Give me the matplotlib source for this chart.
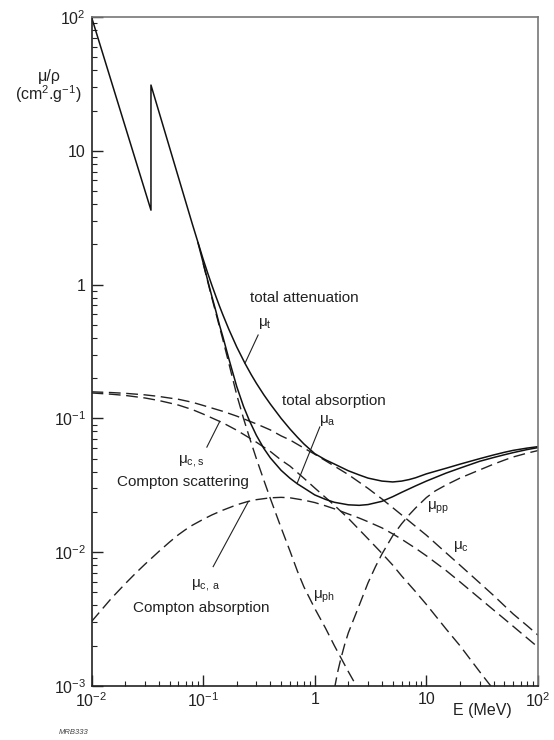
import matplotlib
matplotlib.use("Agg")
import matplotlib.pyplot as plt
from matplotlib.ticker import FixedLocator, FixedFormatter, LogLocator, NullFormatter

plt.rcParams['font.family'] = ['Liberation Sans', 'DejaVu Sans']
plt.rcParams['mathtext.fontset'] = 'custom'
plt.rcParams['mathtext.rm'] = 'Liberation Sans'
plt.rcParams['mathtext.it'] = 'Liberation Sans'
plt.rcParams['mathtext.default'] = 'regular'

# total attenuation (solid)
E_t = [0.01, 0.0341, 0.0341, 0.05, 0.08, 0.1, 0.11, 0.12, 0.13, 0.14, 0.15, 0.17, 0.2, 0.237,
       0.27, 0.3, 0.35, 0.4, 0.5, 0.6, 0.7, 0.8, 1.0, 1.25, 1.5, 2, 2.5, 3, 4, 5, 6, 7, 8, 10,
       13, 15, 20, 30, 40, 50, 60, 80, 100]
mu_t = [100, 3.6, 31, 10.6, 2.84, 1.55, 1.216, 0.984, 0.818, 0.692, 0.597, 0.463, 0.342, 0.258,
        0.212, 0.183, 0.150, 0.128, 0.100, 0.0833, 0.0723, 0.0644, 0.0545, 0.049, 0.0456,
        0.0406, 0.0378, 0.0358, 0.0340, 0.0335, 0.0340, 0.0349, 0.0360, 0.0385, 0.0410, 0.0424,
        0.0455, 0.0500, 0.0533, 0.0558, 0.0577, 0.0600, 0.0615]

# total absorption (solid)
E_a = [0.09, 0.1, 0.11, 0.12, 0.13, 0.14, 0.15, 0.17, 0.2, 0.23, 0.26, 0.3, 0.35, 0.4, 0.5,
       0.6, 0.7, 0.8, 1, 1.25, 1.5, 2, 2.5, 3, 4, 5, 6, 8, 10, 15, 20, 30, 40, 50, 60, 80, 100]
mu_a = [2.05, 1.46, 1.07, 0.81, 0.635, 0.50, 0.41, 0.279, 0.173, 0.123, 0.096, 0.0747, 0.0596,
        0.0507, 0.0409, 0.0357, 0.0324, 0.0302, 0.0268, 0.0248, 0.0236, 0.0226, 0.0224, 0.0227,
        0.0240, 0.0260, 0.0280, 0.0313, 0.0340, 0.0390, 0.0425, 0.0478, 0.0510, 0.0535, 0.0555,
        0.0585, 0.0605]

# photoelectric (dashed)
E_ph = [0.1, 0.11, 0.12, 0.13, 0.14, 0.15, 0.17, 0.2, 0.23, 0.26, 0.3, 0.35, 0.4, 0.5, 0.6,
        0.7, 0.8, 1.0, 1.25, 1.5, 2, 2.5]
mu_ph = [1.44, 1.05, 0.79, 0.615, 0.485, 0.39, 0.258, 0.150, 0.100, 0.072, 0.050, 0.0345,
         0.0252, 0.0152, 0.0102, 0.0072, 0.0055, 0.0038, 0.0027, 0.0020, 0.00128, 0.00092]

# Compton total and Compton scattering (dashed)
E_c = [0.01, 0.015, 0.02, 0.03, 0.04, 0.05, 0.06, 0.08, 0.1, 0.15, 0.2, 0.3, 0.4, 0.5, 0.6,
       0.8, 1, 1.5, 2, 3, 4, 5, 6, 8, 10, 15, 20, 30, 40, 50, 60, 80, 100]
mu_c = [0.158, 0.156, 0.154, 0.150, 0.146, 0.142, 0.139, 0.132, 0.125, 0.113, 0.104, 0.091,
        0.082, 0.074, 0.069, 0.060, 0.054, 0.044, 0.038, 0.030, 0.025, 0.0215, 0.019, 0.0156,
        0.0134, 0.0099, 0.0080, 0.0059, 0.00475, 0.00398, 0.00345, 0.00282, 0.0024]
mu_cs = [0.155, 0.1516, 0.1485, 0.1422, 0.1361, 0.1304, 0.1258, 0.1164, 0.1078, 0.0927, 0.0816,
         0.0664, 0.0566, 0.0488, 0.0440, 0.0357, 0.0302, 0.0224, 0.0179, 0.0126, 0.0098, 0.0080,
         0.00665, 0.00507, 0.00407, 0.00267, 0.0020, 0.00128, 0.00094, 0.00072, 0.0006, 0.00045,
         0.00036]

# Compton absorption (dashed)
E_ca = [0.01, 0.012, 0.015, 0.02, 0.025, 0.03, 0.04, 0.05, 0.06, 0.07, 0.08, 0.1, 0.12, 0.15,
        0.2, 0.25, 0.3, 0.4, 0.5, 0.6, 0.8, 1, 1.25, 1.5, 2, 2.5, 3, 4, 5, 6, 8, 10, 15, 20, 30,
        40, 50, 60, 80, 100]
mu_ca = [0.00303, 0.00362, 0.0045, 0.0058, 0.0070, 0.0081, 0.0101, 0.0119, 0.0135, 0.0148,
         0.0159, 0.0176, 0.0190, 0.0206, 0.0226, 0.0239, 0.0247, 0.0255, 0.0257, 0.0255, 0.0245,
         0.0235, 0.0222, 0.0211, 0.0193, 0.0180, 0.0169, 0.0152, 0.0137, 0.0125, 0.0107, 0.0094,
         0.0073, 0.0060, 0.00452, 0.00370, 0.00317, 0.00279, 0.00228, 0.00195]

# pair production (dashed)
E_pp = [1.5, 1.6, 1.7, 1.85, 2, 2.5, 3, 3.5, 4, 5, 6, 7, 8, 10, 12, 15, 20, 30, 40, 50, 60, 80,
        100]
mu_pp = [0.00095, 0.00126, 0.00156, 0.00203, 0.0025, 0.0040, 0.0059, 0.0078, 0.0097, 0.0133,
         0.0163, 0.0190, 0.0214, 0.0256, 0.0287, 0.0318, 0.0358, 0.0412, 0.0455, 0.0488, 0.0515,
         0.0550, 0.0575]

xticks = [0.01, 0.1, 1, 10, 100]
xlabels = ['$10^{-2}$', '$10^{-1}$', '1', '10', '$10^{2}$']
yticks = [0.001, 0.01, 0.1, 1, 10, 100]
ylabels = ['$10^{-3}$', '$10^{-2}$', '$10^{-1}$', '1', '10', '$10^{2}$']

fig = plt.figure(figsize=(5.54, 7.40), dpi=100)
ax = fig.add_axes([91.5/554, 1-686/740, (538-91.5)/554, (686-17)/740])
ax.set_xscale('log')
ax.set_yscale('log')
ax.set_xlim(0.01, 100)
ax.set_ylim(0.001, 100)

dash = (8.5, 4)
for xs, ys in [(E_ph, mu_ph), (E_c, mu_c), (E_c, mu_cs), (E_ca, mu_ca), (E_pp, mu_pp)]:
    ax.plot(xs, ys, color='#222222', lw=1.0, linestyle=(0, dash))
ax.plot(E_t, mu_t, color='#111111', lw=1.1)
ax.plot(E_a, mu_a, color='#111111', lw=1.1)

# pointer lines
ax.plot([0.311, 0.237], [0.42, 0.258], color='#222222', lw=0.8)
ax.plot([1.11, 0.694], [0.0863, 0.0326], color='#222222', lw=0.8)
ax.plot([0.108, 0.141], [0.061, 0.095], color='#222222', lw=0.8)
ax.plot([0.123, 0.254], [0.0078, 0.0239], color='#222222', lw=0.8)

fs = 11
ax.text(0.80, 0.79, 'total attenuation', fontsize=fs, ha='center', va='center', color='#222222')
ax.text(0.36, 0.508, '$μ_{t}$', fontsize=fs, ha='center', va='center', color='#222222')
ax.text(1.49, 0.135, 'total absorption', fontsize=fs, ha='center', va='center', color='#222222')
ax.text(1.29, 0.097, '$μ_{a}$', fontsize=fs, ha='center', va='center', color='#222222')
ax.text(0.078, 0.048, '$μ_{c,s}$', fontsize=fs, ha='center', va='center', color='#222222')
ax.text(0.066, 0.0335, 'Compton scattering', fontsize=fs, ha='center', va='center', color='#222222')
ax.text(0.106, 0.00569, '$μ_{c,\\ a}$', fontsize=fs, ha='center', va='center', color='#222222')
ax.text(0.097, 0.00386, 'Compton absorption', fontsize=fs, ha='center', va='center', color='#222222')
ax.text(12.8, 0.0214, '$μ_{pp}$', fontsize=fs, ha='center', va='center', color='#222222')
ax.text(20.5, 0.0111, '$μ_{c}$', fontsize=fs, ha='center', va='center', color='#222222')
ax.text(1.21, 0.00462, '$μ_{ph}$', fontsize=fs, ha='center', va='center', color='#222222')

ax.xaxis.set_major_locator(FixedLocator(xticks))
ax.xaxis.set_major_formatter(FixedFormatter(xlabels))
ax.yaxis.set_major_locator(FixedLocator(yticks))
ax.yaxis.set_major_formatter(FixedFormatter(ylabels))
ax.xaxis.set_minor_locator(LogLocator(base=10, subs=range(2, 10)))
ax.yaxis.set_minor_locator(LogLocator(base=10, subs=range(2, 10)))
ax.xaxis.set_minor_formatter(NullFormatter())
ax.yaxis.set_minor_formatter(NullFormatter())
ax.tick_params(which='both', direction='in', top=False, right=False, colors='#222222',
               labelsize=11.5)
ax.tick_params(which='major', length=8, width=1.0, pad=4)
ax.tick_params(which='minor', length=3.8, width=0.8)

for s in ['left', 'bottom']:
    ax.spines[s].set_linewidth(1.2)
    ax.spines[s].set_color('#222222')
for s in ['top', 'right']:
    ax.spines[s].set_linewidth(1.2)
    ax.spines[s].set_color('#777777')

fig.text(49/554, 1-76/740, 'μ/ρ', fontsize=11.5, ha='center', va='center', color='#222222')
fig.text(48/554, 1-94/740, '(cm$^{2}$.g$^{-1}$)', fontsize=11.5, ha='center', va='center',
         color='#222222')
fig.text(482/554, 1-711/740, 'E (MeV)', fontsize=11.5, ha='center', va='center', color='#222222')
fig.text(74/554, 1-733/740, 'MRB333', fontsize=5.5, ha='center', va='center', color='#444444',
         style='italic')

fig.savefig('out.png', dpi=100)
